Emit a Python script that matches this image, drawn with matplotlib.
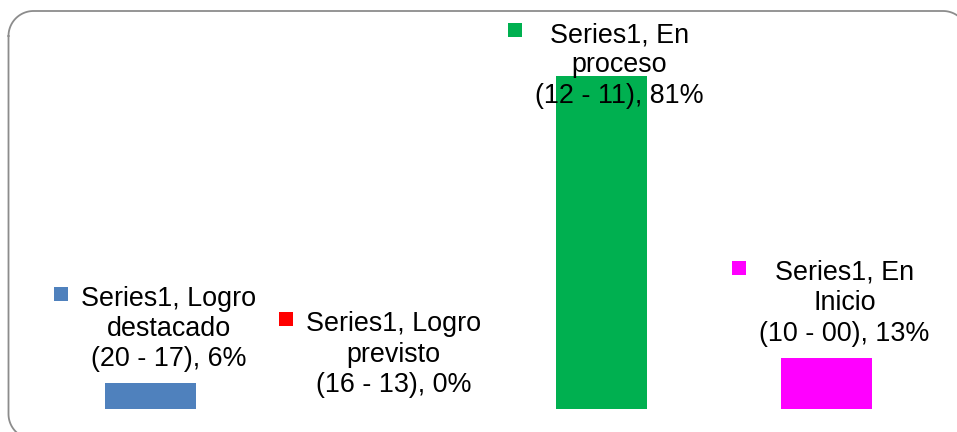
import numpy as np
import matplotlib
matplotlib.use("Agg")
import matplotlib.pyplot as plt
from matplotlib.patches import Rectangle

categories = ["Logro\ndestacado\n(20 - 17)", "Logro\nprevisto\n(16 - 13)", "En\nproceso\n(12 - 11)", "En\nInicio\n(10 - 00)"]
series_name = "Series1"
values = [6.25, 0.0, 81.25, 12.5]
pct_labels = ["6%", "0%", "81%", "13%"]
colors = ["#4F81BD", "#FF0000", "#00B050", "#FF00FF"]

W, H, DPI = 957, 432, 100
plt.rcParams['font.family'] = ['Liberation Sans', 'DejaVu Sans']
fig = plt.figure(figsize=(W / DPI, H / DPI), dpi=DPI)
fig.patch.set_facecolor("white")

# overlay axes in pixel units for the rounded chart border
bax = fig.add_axes([0, 0, 1, 1])
bax.set_xlim(0, W)
bax.set_ylim(H, 0)
bax.axis("off")
bx0, by0, bx1, by1, r = 8.5, 11.0, 968.0, 439.0, 25.0
def arc(cx, cy, a0, a1):
    a = np.radians(np.linspace(a0, a1, 30))
    return cx + r * np.cos(a), cy + r * np.sin(a)
segs = [arc(bx0 + r, by0 + r, 180, 270), arc(bx1 - r, by0 + r, 270, 360),
        arc(bx1 - r, by1 - r, 0, 90), arc(bx0 + r, by1 - r, 90, 180)]
xs = np.concatenate([s[0] for s in segs] + [segs[0][0][:1]])
ys = np.concatenate([s[1] for s in segs] + [segs[0][1][:1]])
bax.plot(xs, ys, color="#8C8C8C", linewidth=1.3, solid_joinstyle="round")

ax_left, ax_right, ax_bottom, ax_top = 38, 939, 409, 12
ax = fig.add_axes([ax_left / W, (H - ax_bottom) / H, (ax_right - ax_left) / W, (ax_bottom - ax_top) / H])
px_per_unit = 333 / 81.25
ax.set_ylim(0, (ax_bottom - ax_top) / px_per_unit)
ax.set_xlim(-0.5, len(values) - 0.5)
ax.axis("off")

x = list(range(len(values)))
ax.bar(x, values, width=0.405, color=colors)

fs = 19.4
fig.canvas.draw()
renderer = fig.canvas.get_renderer()

for i, (cat, v, p, c) in enumerate(zip(categories, values, pct_labels, colors)):
    lines = cat.split("\n")
    label = f"{series_name}, {lines[0]}\n{lines[1]}\n{lines[2]}, {p}"
    xd, yd = ax.transData.transform((i, v))
    tx = xd + 18
    ty = yd + 11
    t = fig.text(tx / W, ty / H, label, ha="center", va="bottom", multialignment="center",
                 fontsize=fs, linespacing=1.22, color="black")
    bb = t.get_window_extent(renderer)
    limit = H - 22
    if bb.y1 > limit:
        ty -= (bb.y1 - limit)
        t.set_position((tx / W, ty / H))
        bb = t.get_window_extent(renderer)
    key = 14
    kx = bb.x0 - 13 - key
    ky = bb.y1 - 1 - key
    fig.patches.append(Rectangle((kx / W, ky / H), key / W, key / H, transform=fig.transFigure,
                                 facecolor=c, edgecolor="none"))

fig.savefig("out.png", dpi=DPI, facecolor="white")
